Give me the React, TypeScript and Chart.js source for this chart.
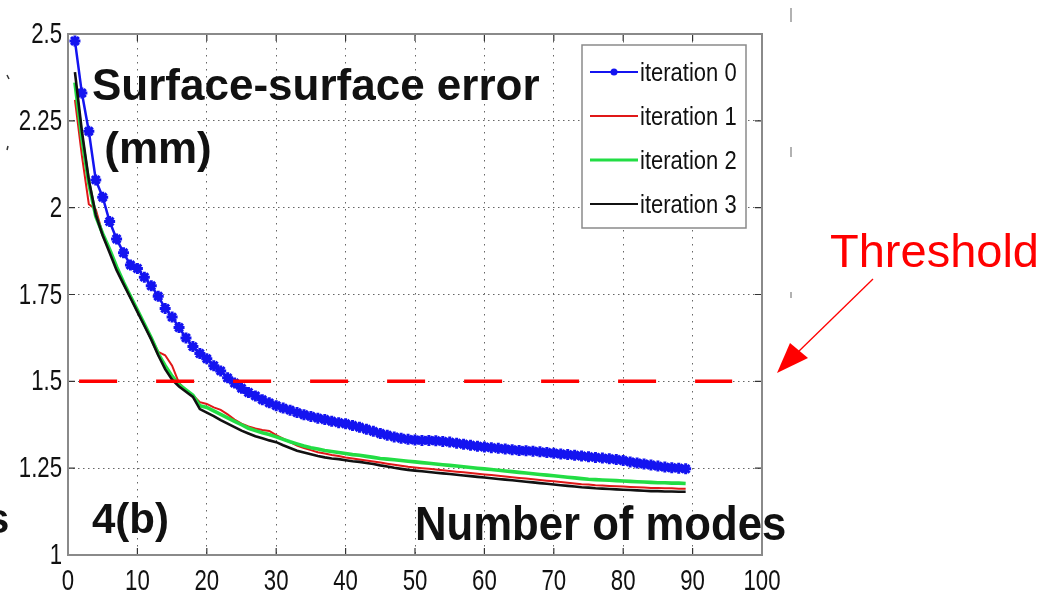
import React, { useEffect, useRef } from "react";
import { Chart, registerables } from "chart.js";

Chart.register(...registerables);

// ---------- data ----------
const modes = [
  1, 2, 3, 4, 5, 6, 7, 8, 9, 10, 11, 12, 13, 14, 15, 16, 17, 18, 19, 20,
  21, 22, 23, 24, 25, 26, 27, 28, 29, 30, 31, 32, 33, 34, 35, 36, 37, 38, 39, 40,
  41, 42, 43, 44, 45, 46, 47, 48, 49, 50, 51, 52, 53, 54, 55, 56, 57, 58, 59, 60,
  61, 62, 63, 64, 65, 66, 67, 68, 69, 70, 71, 72, 73, 74, 75, 76, 77, 78, 79, 80,
  81, 82, 83, 84, 85, 86, 87, 88, 89,
];

const iteration0 = [
  2.48, 2.33, 2.22, 2.08, 2.03, 1.96, 1.91, 1.87, 1.835, 1.825,
  1.8, 1.775, 1.745, 1.71, 1.685, 1.655, 1.625, 1.6, 1.58, 1.565,
  1.545, 1.53, 1.51, 1.495, 1.48, 1.468, 1.458, 1.447, 1.438, 1.43,
  1.423, 1.417, 1.41, 1.404, 1.399, 1.394, 1.39, 1.385, 1.381, 1.378,
  1.373, 1.368, 1.362, 1.356, 1.35, 1.345, 1.34, 1.336, 1.333, 1.331,
  1.33, 1.33, 1.329, 1.327, 1.325, 1.322, 1.319, 1.316, 1.313, 1.311,
  1.309, 1.307, 1.305, 1.303, 1.301, 1.3, 1.299, 1.297, 1.295, 1.293,
  1.291, 1.289, 1.287, 1.285, 1.283, 1.281, 1.279, 1.277, 1.275, 1.272,
  1.268, 1.265, 1.262, 1.259, 1.256, 1.253, 1.251, 1.25, 1.248,
];

const iteration1 = [
  2.31, 2.15, 2.01, 1.995, 1.925, 1.875, 1.825, 1.785, 1.745, 1.705,
  1.665, 1.625, 1.585, 1.575, 1.545, 1.495, 1.475, 1.46, 1.44, 1.435,
  1.425, 1.418, 1.405, 1.39, 1.378, 1.37, 1.364, 1.36, 1.357, 1.345,
  1.335, 1.325, 1.315, 1.308, 1.302, 1.296, 1.292, 1.288, 1.285, 1.281,
  1.278, 1.275, 1.272, 1.269, 1.266, 1.263, 1.26, 1.257, 1.254, 1.252,
  1.25, 1.248, 1.246, 1.244, 1.242, 1.24, 1.238, 1.236, 1.234, 1.232,
  1.23, 1.228, 1.226, 1.224, 1.222, 1.22, 1.218, 1.216, 1.214, 1.212,
  1.21, 1.208, 1.206, 1.204, 1.203, 1.201, 1.2, 1.199, 1.198, 1.197,
  1.196, 1.195, 1.194, 1.193, 1.193, 1.192, 1.192, 1.191, 1.191,
];

const iteration2 = [
  2.36, 2.2, 2.07, 1.975, 1.925, 1.88, 1.83, 1.785, 1.745, 1.705,
  1.665, 1.625, 1.58, 1.545, 1.515, 1.49, 1.475, 1.46, 1.43, 1.425,
  1.415, 1.405, 1.395, 1.385, 1.375, 1.365, 1.358, 1.352, 1.347, 1.34,
  1.333, 1.326, 1.32, 1.314, 1.309, 1.305, 1.301, 1.298, 1.295, 1.292,
  1.289, 1.287, 1.284, 1.281, 1.278, 1.276, 1.274, 1.272, 1.27, 1.268,
  1.266, 1.264, 1.262, 1.26, 1.258, 1.256, 1.254, 1.252, 1.25, 1.248,
  1.246, 1.244, 1.242, 1.24, 1.238, 1.236, 1.234, 1.232, 1.23, 1.228,
  1.226, 1.224, 1.222, 1.22, 1.218, 1.217, 1.216, 1.215, 1.214, 1.213,
  1.212, 1.211, 1.21, 1.209, 1.208, 1.208, 1.207, 1.207, 1.206,
];

const iteration3 = [
  2.39, 2.22, 2.08, 1.98, 1.92, 1.87, 1.82, 1.78, 1.74, 1.7,
  1.66, 1.62, 1.575, 1.535, 1.505, 1.485, 1.47, 1.455, 1.42, 1.41,
  1.4, 1.388, 1.378, 1.368, 1.358, 1.35, 1.342, 1.336, 1.33, 1.325,
  1.316, 1.308, 1.3, 1.295, 1.29, 1.285, 1.281, 1.278, 1.276, 1.273,
  1.27, 1.268, 1.265, 1.262, 1.258, 1.255, 1.251, 1.248, 1.245, 1.243,
  1.241, 1.239, 1.237, 1.235, 1.233, 1.231, 1.229, 1.227, 1.225, 1.223,
  1.221, 1.219, 1.217, 1.215, 1.213, 1.211, 1.209, 1.207, 1.205, 1.203,
  1.201, 1.199, 1.197, 1.195, 1.194, 1.192, 1.191, 1.19, 1.189, 1.188,
  1.187, 1.186, 1.185, 1.184, 1.184, 1.183, 1.183, 1.182, 1.182,
];

const seriesLabels = ["iteration 0", "iteration 1", "iteration 2", "iteration 3"];
const seriesColors = ["#1414f0", "#e01818", "#22dd44", "#111111"];

const thresholdValue = 1.5;
const thresholdStart = 1.6;
const thresholdEnd = 95.7;

const xTickValues = [0, 10, 20, 30, 40, 50, 60, 70, 80, 90, 100];
const xTickLabels = ["0", "10", "20", "30", "40", "50", "60", "70", "80", "90", "100"];
const yTickValues = [1, 1.25, 1.5, 1.75, 2, 2.25, 2.5];
const yTickLabels = ["1", "1.25", "1.5", "1.75", "2", "2.25", "2.5"];

const panelTitle = ["Surface-surface error", " (mm)"];
const panelTag = "4(b)";
const xAxisTitle = "Number of modes";
const thresholdText = "Threshold";

const SANS = "'Liberation Sans', Arial, Helvetica, sans-serif";

function drawText(
  ctx: CanvasRenderingContext2D,
  text: string,
  x: number,
  y: number,
  font: string,
  color: string,
  sx = 1,
  align: CanvasTextAlign = "left"
) {
  ctx.save();
  ctx.font = font;
  ctx.fillStyle = color;
  ctx.textAlign = align;
  ctx.textBaseline = "alphabetic";
  ctx.translate(x, y);
  ctx.scale(sx, 1);
  ctx.fillText(text, 0, 0);
  ctx.restore();
}

const decorPlugin = {
  id: "decor",
  afterDraw(chart: any) {
    const { ctx, chartArea: a, scales } = chart;
    const xs = scales.x;
    const ys = scales.y;
    ctx.save();

    // inner tick marks on all four sides
    ctx.strokeStyle = "#333";
    ctx.lineWidth = 1.2;
    ctx.setLineDash([]);
    ctx.beginPath();
    xTickValues.forEach((v) => {
      const px = xs.getPixelForValue(v);
      ctx.moveTo(px, a.bottom);
      ctx.lineTo(px, a.bottom - 7);
      ctx.moveTo(px, a.top);
      ctx.lineTo(px, a.top + 7);
    });
    yTickValues.forEach((v) => {
      const py = ys.getPixelForValue(v);
      ctx.moveTo(a.left, py);
      ctx.lineTo(a.left + 7, py);
      ctx.moveTo(a.right, py);
      ctx.lineTo(a.right - 7, py);
    });
    ctx.stroke();

    // axes box
    ctx.strokeStyle = "#8a8a8a";
    ctx.lineWidth = 2;
    ctx.strokeRect(a.left, a.top, a.right - a.left, a.bottom - a.top);

    // tick labels (narrow, MATLAB-like), positioned by the chart's scales
    const tickFont = `30px ${SANS}`;
    xTickValues.forEach((v, i) => {
      const px = xs.getPixelForValue(v);
      drawText(ctx, xTickLabels[i], px, 590, tickFont, "#111", 0.74, "center");
    });
    yTickValues.forEach((v, i) => {
      const py = ys.getPixelForValue(v);
      drawText(ctx, yTickLabels[i], 62, py + 9, tickFont, "#111", 0.74, "right");
    });

    // legend
    const lx = 582, ly = 45, lw = 164, lh = 183;
    ctx.fillStyle = "#ffffff";
    ctx.fillRect(lx, ly, lw, lh);
    ctx.strokeStyle = "#8a8a8a";
    ctx.lineWidth = 1.5;
    ctx.strokeRect(lx, ly, lw, lh);
    const rows = [72, 116, 160, 204];
    seriesLabels.forEach((lab, i) => {
      const yy = rows[i];
      ctx.strokeStyle = seriesColors[i];
      ctx.lineWidth = i === 2 ? 3 : 2;
      ctx.beginPath();
      ctx.moveTo(590, yy);
      ctx.lineTo(638, yy);
      ctx.stroke();
      if (i === 0) {
        ctx.fillStyle = seriesColors[0];
        ctx.beginPath();
        ctx.arc(614, yy, 3.5, 0, Math.PI * 2);
        ctx.fill();
      }
      drawText(ctx, lab, 640, yy + 9, `25px ${SANS}`, "#111", 0.88);
    });

    // panel texts
    const bold = (s: number) => `bold ${s}px ${SANS}`;
    drawText(ctx, panelTitle[0], 92, 100, bold(44), "#111");
    drawText(ctx, panelTitle[1], 92, 163, bold(44), "#111");
    drawText(ctx, panelTag, 92, 533, bold(42), "#111");
    drawText(ctx, xAxisTitle, 415, 540, bold(48), "#111", 0.91);
    drawText(ctx, "s", -14, 533, bold(42), "#111");

    // threshold annotation
    drawText(ctx, thresholdText, 830, 267, `47px ${SANS}`, "#ff0000");
    ctx.strokeStyle = "#ff0000";
    ctx.lineWidth = 1.3;
    ctx.beginPath();
    ctx.moveTo(873, 279);
    ctx.lineTo(796, 354);
    ctx.stroke();
    ctx.fillStyle = "#ff0000";
    ctx.beginPath();
    ctx.moveTo(777, 373);
    ctx.lineTo(790, 343);
    ctx.lineTo(808, 358);
    ctx.closePath();
    ctx.fill();

    // stray fragments at the edges
    ctx.strokeStyle = "#999";
    ctx.lineWidth = 1.5;
    ctx.beginPath();
    ctx.moveTo(791, 8); ctx.lineTo(791, 22);
    ctx.moveTo(791, 147); ctx.lineTo(791, 157);
    ctx.moveTo(791, 292); ctx.lineTo(791, 298);
    ctx.stroke();
    ctx.strokeStyle = "#333";
    ctx.beginPath();
    ctx.moveTo(7, 75); ctx.lineTo(9, 79);
    ctx.moveTo(8, 146); ctx.lineTo(7, 150);
    ctx.stroke();

    ctx.restore();
  },
};

export default function App() {
  const canvasRef = useRef<HTMLCanvasElement | null>(null);

  useEffect(() => {
    const canvas = canvasRef.current;
    if (!canvas) return;
    const datasets: any[] = [
      {
        label: seriesLabels[0],
        data: iteration0,
        borderColor: seriesColors[0],
        backgroundColor: seriesColors[0],
        borderWidth: 2.5,
        pointStyle: "star",
        pointRadius: 5.5,
        pointBorderWidth: 3,
        pointBorderColor: seriesColors[0],
        order: 3,
      },
      {
        label: seriesLabels[1],
        data: iteration1,
        borderColor: seriesColors[1],
        borderWidth: 2,
        pointRadius: 0,
        order: 2,
      },
      {
        label: seriesLabels[2],
        data: iteration2,
        borderColor: seriesColors[2],
        borderWidth: 3.6,
        pointRadius: 0,
        order: 1,
      },
      {
        label: seriesLabels[3],
        data: iteration3,
        borderColor: seriesColors[3],
        borderWidth: 2.6,
        pointRadius: 0,
        order: 0,
      },
      {
        label: "threshold",
        data: [
          { x: thresholdStart, y: thresholdValue },
          { x: thresholdEnd, y: thresholdValue },
        ],
        borderColor: "#ff0000",
        borderWidth: 3.5,
        borderDash: [38, 39],
        pointRadius: 0,
        order: -1,
      },
    ];

    const chart = new Chart(canvas, {
      type: "line",
      data: { labels: modes, datasets },
      options: {
        animation: false,
        responsive: false,
        devicePixelRatio: 1,
        layout: { padding: { left: 0, top: 34, right: 285, bottom: 0 } },
        plugins: { legend: { display: false }, tooltip: { enabled: false } },
        elements: { line: { tension: 0 } },
        scales: {
          x: {
            type: "linear",
            min: 0,
            max: 100,
            afterFit: (s: any) => {
              s.height = 41;
            },
            afterBuildTicks: (s: any) => {
              s.ticks = xTickValues.map((v) => ({ value: v }));
            },
            ticks: { display: false, autoSkip: false, maxRotation: 0 },
            grid: { color: "#666", lineWidth: 1, drawTicks: false },
            border: { display: false, dash: [1.5, 5.5] },
          },
          y: {
            type: "linear",
            min: 1,
            max: 2.5,
            afterFit: (s: any) => {
              s.width = 68;
            },
            afterBuildTicks: (s: any) => {
              s.ticks = yTickValues.map((v) => ({ value: v }));
            },
            ticks: { display: false, autoSkip: false },
            grid: { color: "#666", lineWidth: 1, drawTicks: false },
            border: { display: false, dash: [1.5, 3.5] },
          },
        },
      },
      plugins: [decorPlugin],
    });

    return () => chart.destroy();
  }, []);

  return (
    <div style={{ position: "absolute", left: 0, top: 0, width: 1047, height: 596, background: "#fff" }}>
      <canvas ref={canvasRef} width={1047} height={596} style={{ display: "block" }} />
    </div>
  );
}
